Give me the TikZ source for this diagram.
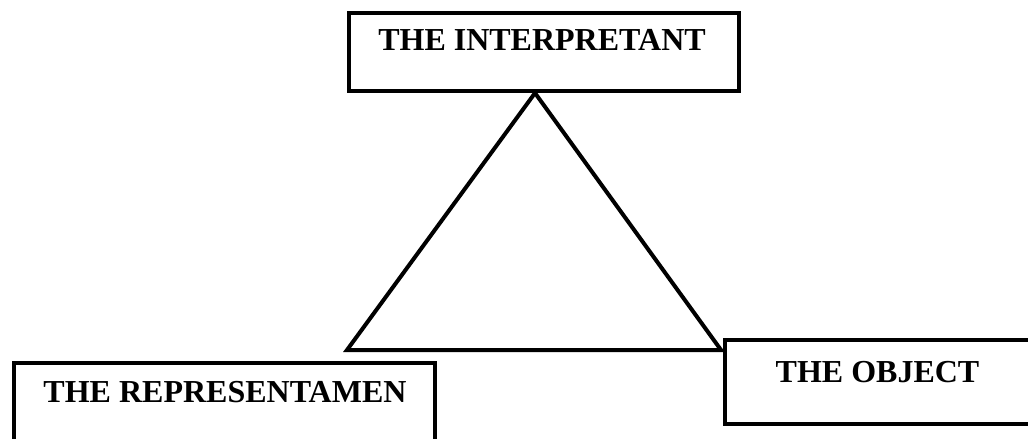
\documentclass[tikz,border=0pt]{standalone}
\usepackage{fontspec}
\setmainfont{Liberation Serif}
\usetikzlibrary{positioning, calc}

\begin{document}
\begin{tikzpicture}[
  x=1pt, y=-1pt,
  box/.style={draw, line width=4pt, inner sep=0pt},
  lbl/.style={font=\bfseries\fontsize{32}{38}\selectfont, inner sep=0pt, anchor=base},
]
\useasboundingbox (0,0) rectangle (1028,439);

\node[box, minimum width=390pt, minimum height=78pt] (interp) at (544,52)    {};
\node[box, minimum width=421pt, minimum height=83pt] (repr)   at (224.5,404) {};
\node[box, minimum width=305pt, minimum height=84pt] (obj)    at (877.5,382) {};

\node[lbl] (interpT) at (542,50)    {THE INTERPRETANT};
\node[lbl] (reprT)   at (225,402)   {THE REPRESENTAMEN};
\node[lbl] (objT)    at (877.5,382) {THE OBJECT};

\coordinate (apex) at ([xshift=-9pt]interp.south);
\coordinate (lc) at (347,350);
\coordinate (rc) at (721,350);
\draw[line width=4pt] (apex) -- (rc) -- (lc) -- cycle;
\end{tikzpicture}
\end{document}
